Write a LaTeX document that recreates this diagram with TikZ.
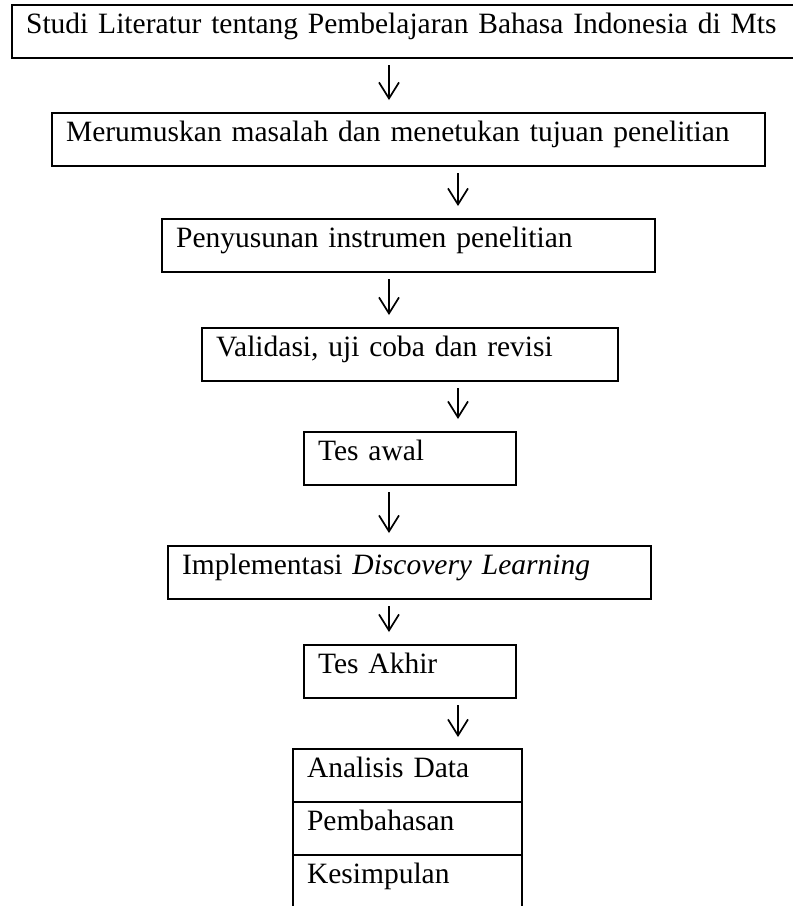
\documentclass[tikz,border=0pt]{standalone}
\usepackage{fontspec}
\setmainfont{Liberation Serif}
\usetikzlibrary{arrows.meta, positioning}
\tikzset{
  stage/.style={rectangle, draw=black, line width=2.2pt, anchor=north west,
                inner xsep=14pt, inner ysep=0pt, text height=28pt, text depth=25pt,
                align=left, font=\fontsize{29.5}{36}\selectfont},
  cell/.style={stage, text width=201pt, outer sep=0pt},
  fl/.style={-{Straight Barb[length=16pt, width=20pt, line width=1.7pt]}, line width=1.7pt,
             shorten <=6pt, shorten >=12pt}
}

\begin{document}
\begin{tikzpicture}[x=1pt, y=-1pt]
\useasboundingbox (0,0) rectangle (793,906);
\clip (0,0) rectangle (793,906);

\node[stage, text width=772pt] (s1) at (11,4) {Studi Literatur tentang Pembelajaran Bahasa Indonesia di Mts};
\node[stage, text width=685pt] (s2) at (51,112) {Merumuskan masalah dan menetukan tujuan penelitian};
\node[stage, text width=465pt] (s3) at (161,218) {Penyusunan instrumen penelitian};
\node[stage, text width=388pt] (s4) at (201,327) {Validasi, uji coba dan revisi};
\node[stage, text width=184pt] (s5) at (303,431) {Tes awal};
\node[stage, text width=455pt] (s6) at (167,545) {Implementasi \textit{Discovery Learning}};
\node[stage, text width=184pt] (s7) at (303,644) {Tes Akhir};

\node[cell] (t1) at (293,749) {Analisis Data};
\node[cell, below=0pt of t1] (t2) {Pembahasan};
\node[cell, below=0pt of t2, text depth=44pt] (t3) {Kesimpulan};

\coordinate (cl) at (389,0);
\coordinate (cr) at (458,0);
\draw[fl] (s1.south -| cl) -- (s2.north -| cl);
\draw[fl] (s2.south -| cr) -- (s3.north -| cr);
\draw[fl] (s3.south -| cl) -- (s4.north -| cl);
\draw[fl] (s4.south -| cr) -- (s5.north -| cr);
\draw[fl] (s5.south -| cl) -- (s6.north -| cl);
\draw[fl] (s6.south -| cl) -- (s7.north -| cl);
\draw[fl] (s7.south -| cr) -- (t1.north -| cr);
\end{tikzpicture}
\end{document}
